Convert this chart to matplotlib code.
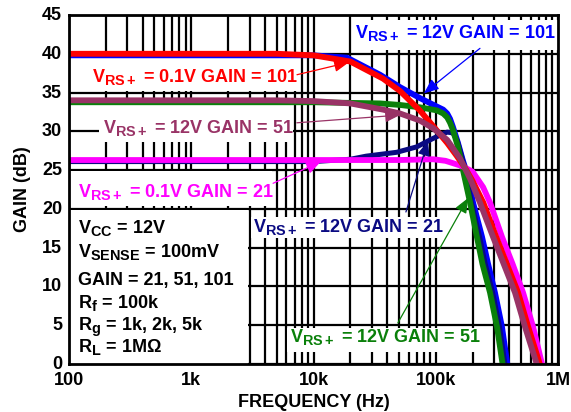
import matplotlib
matplotlib.use('Agg')
import matplotlib.pyplot as plt
import matplotlib._mathtext as _mt
import matplotlib.transforms as mtrans
from matplotlib.patches import Rectangle

_mt.SHRINK_FACTOR = 0.8

plt.rcParams['font.family'] = ['Liberation Sans', 'DejaVu Sans']
plt.rcParams['font.weight'] = 'bold'
plt.rcParams['mathtext.fontset'] = 'custom'
plt.rcParams['mathtext.rm'] = 'Liberation Sans:bold'
plt.rcParams['mathtext.it'] = 'Liberation Sans:bold'
plt.rcParams['mathtext.bf'] = 'Liberation Sans:bold'
plt.rcParams['mathtext.default'] = 'rm'

# ---------------- data ----------------
freq_12v_101 = [100, 10e3, 18.8e3, 35e3, 51e3, 74e3, 102e3, 115e3, 124e3, 131e3,
                138e3, 152e3, 167e3, 180e3, 202e3, 239e3, 268e3, 305e3, 348e3, 385e3]
gain_12v_101 = [39.8, 39.8, 39.5, 37.3, 35.7, 34.3, 33.2, 32.8, 32.3, 31.6,
                30.6, 28.5, 26.2, 24.6, 20.8, 16.4, 12.9, 9.2, 4.8, 0.0]

freq_12v_21 = [100, 10e3, 20e3, 27e3, 48e3, 70e3, 90e3, 108e3, 124e3, 138e3,
               150e3, 160e3, 175e3, 196e3, 228e3, 254e3, 292e3, 332e3, 368e3]
gain_12v_21 = [26.1, 26.1, 26.4, 26.8, 27.3, 28.0, 28.9, 29.5, 29.9, 29.8,
               28.8, 27.2, 25.0, 20.8, 16.4, 12.9, 9.2, 4.8, 0.0]

freq_12v_51_green = [100, 10e3, 35e3, 51e3, 74e3, 102e3, 115e3, 124e3, 131e3,
                     138e3, 152e3, 167e3, 191e3, 217e3, 241e3, 278e3, 317e3, 352e3]
gain_12v_51_green = [33.75, 33.75, 33.6, 33.4, 33.1, 32.7, 32.3, 31.8, 31.1,
                     30.2, 28.0, 25.0, 20.8, 16.4, 12.9, 9.2, 4.8, 0.0]

freq_01v_21 = [100, 50e3, 95e3, 120e3, 138e3, 165e3, 200e3, 244e3, 278e3,
               348e3, 425e3, 518e3, 625e3, 740e3]
gain_01v_21 = [26.3, 26.3, 26.4, 26.2, 25.9, 25.5, 24.8, 22.8, 20.8,
               16.4, 12.9, 9.2, 4.8, 0.0]

freq_01v_101 = [100, 5e3, 10e3, 20e3, 37e3, 51e3, 74e3, 95e3, 124e3, 149e3,
                175e3, 200e3, 245e3, 312e3, 390e3, 472e3, 570e3, 710e3]
gain_01v_101 = [40.0, 40.0, 39.8, 39.0, 36.8, 35.2, 32.7, 30.7, 28.5, 26.8,
                25.2, 23.6, 20.8, 16.4, 12.5, 9.2, 4.8, 0.0]

freq_12v_51_purple = [100, 5e3, 10e3, 20e3, 37e3, 51e3, 74e3, 95e3, 124e3,
                      158e3, 191e3, 230e3, 294e3, 368e3, 445e3, 537e3, 670e3]
gain_12v_51_purple = [34.0, 34.0, 33.9, 33.6, 32.8, 32.3, 31.4, 30.4, 28.9,
                      26.5, 23.9, 20.8, 16.4, 12.5, 9.2, 4.8, 0.0]

x_major_ticks = [100, 1e3, 10e3, 100e3, 1e6]
x_tick_labels = ['100', '1k', '10k', '100k', '1M']
y_ticks = [0, 5, 10, 15, 20, 25, 30, 35, 40, 45]

info_lines = ['V$_{CC}$ = 12V', 'V$_{SENSE}$ = 100mV', 'GAIN = 21, 51, 101',
              'R$_{f}$ = 100k', 'R$_{g}$ = 1k, 2k, 5k', 'R$_{L}$ = 1MΩ']

# ---------------- colours ----------------
C_BLUE = '#0000FF'
C_NAVY = '#0A0A82'
C_GREEN = '#0A800A'
C_MAGENTA = '#FF00FF'
C_RED = '#FF0000'
C_PURPLE = '#993366'

FS = 13

fig = plt.figure(figsize=(5.71, 4.12), dpi=100)
ax = fig.add_axes([69 / 571, 48 / 412, 489 / 571, 349 / 412])
ax.set_xscale('log')
ax.set_xlim(100, 1e6)
ax.set_ylim(0, 45)

minor = [m * 10 ** d for d in range(2, 6) for m in range(2, 10)]
ax.set_xticks(x_major_ticks)
ax.set_xticklabels(x_tick_labels)
ax.set_xticks(minor, minor=True)
ax.set_xticklabels([], minor=True)
ax.set_yticks(y_ticks)
ax.tick_params(which='both', length=0, labelsize=FS)
ax.tick_params(axis='x', pad=6)
ax.tick_params(axis='y', pad=5)
up = mtrans.ScaledTranslation(0, 1.5 / 100, fig.dpi_scale_trans)
for lab in ax.get_yticklabels():
    lab.set_fontweight('bold')
    lab.set_transform(lab.get_transform() + up)
for lab in ax.get_xticklabels():
    lab.set_fontweight('bold')

ax.set_axisbelow(True)
ax.grid(True, which='both', axis='x', color='black', lw=1.6)
ax.grid(True, which='major', axis='y', color='black', lw=1.6)
for sp in ax.spines.values():
    sp.set_linewidth(2.0)

# white label backgrounds that hide the grid
boxes = [((100, 35.15), 7.5e3, 39.45),
         ((175, 28.6), 6.8e3, 33.55),
         ((100, 20.35), 4.6e3, 24.85),
         ((100, 0), 2.93e3, 19.85),
         ((3.08e3, 16.2), 124e3, 18.95),
         ((6.07e3, 1.5), 250e3, 4.6),
         ((20.5e3, 40.5), 1e6, 44.35)]
for (x0, y0), x1, y1 in boxes:
    ax.add_patch(Rectangle((x0, y0), x1 - x0, y1 - y0, facecolor='white',
                           edgecolor='none', zorder=1))

LW = 4.2
ax.plot(freq_12v_101, gain_12v_101, color=C_BLUE, lw=LW, zorder=2, solid_joinstyle='round')
ax.plot(freq_12v_21, gain_12v_21, color=C_NAVY, lw=3.6, zorder=2.1, solid_joinstyle='round')
ax.plot(freq_12v_51_green, gain_12v_51_green, color=C_GREEN, lw=LW, zorder=2.2, solid_joinstyle='round')
ax.plot(freq_01v_21, gain_01v_21, color=C_MAGENTA, lw=LW, zorder=2.3, solid_joinstyle='round')
ax.plot(freq_01v_101, gain_01v_101, color=C_RED, lw=LW, zorder=2.4, solid_joinstyle='round')
ax.plot(freq_12v_51_purple, gain_12v_51_purple, color=C_PURPLE, lw=LW, zorder=2.5, solid_joinstyle='round')

labels = [
    ('V$_{RS+}$ = 0.1V GAIN = 101', (154, 36.4), C_RED, (7.33e3, 37.3), (19.5e3, 38.9)),
    ('V$_{RS+}$ = 12V GAIN = 101', (21.8e3, 42.0), C_BLUE, (230e3, 40.7), (80e3, 34.9)),
    ('V$_{RS+}$ = 12V GAIN = 51', (190, 29.8), C_PURPLE, (7.3e3, 31.1), (51e3, 32.1)),
    ('V$_{RS+}$ = 0.1V GAIN = 21', (118, 21.5), C_MAGENTA, (4.67e3, 23.3), (11.5e3, 26.1)),
    ('V$_{RS+}$ = 12V GAIN = 21', (3.2e3, 17.0), C_NAVY, (57e3, 19.6), (86.5e3, 28.75)),
    ('V$_{RS+}$ = 12V GAIN = 51', (6.4e3, 2.8), C_GREEN, (49e3, 5.3), (184e3, 21.4)),
]
for text, pos, col, tail, head in labels:
    ax.text(pos[0], pos[1], text, color=col, fontsize=FS, fontweight='bold',
            ha='left', va='baseline', zorder=5)
    ax.annotate('', xy=head, xytext=tail,
                arrowprops=dict(arrowstyle='-|>,head_length=0.6,head_width=0.25',
                                mutation_scale=15, color=col, lw=0.9,
                                shrinkA=0, shrinkB=0), zorder=6)

info_y = [16.9, 13.8, 10.2, 7.2, 4.4, 1.5]
for line, yv in zip(info_lines, info_y):
    ax.text(118, yv, line, color='black', fontsize=FS, fontweight='bold',
            ha='left', va='baseline', zorder=5)

ax.set_xlabel('FREQUENCY (Hz)', fontsize=FS, fontweight='bold')
ax.xaxis.set_label_coords(0.5, -0.086)
ax.set_ylabel('GAIN (dB)', fontsize=FS, fontweight='bold')
ax.yaxis.set_label_coords(-0.078, 0.5)

fig.savefig('out.png', dpi=100)
